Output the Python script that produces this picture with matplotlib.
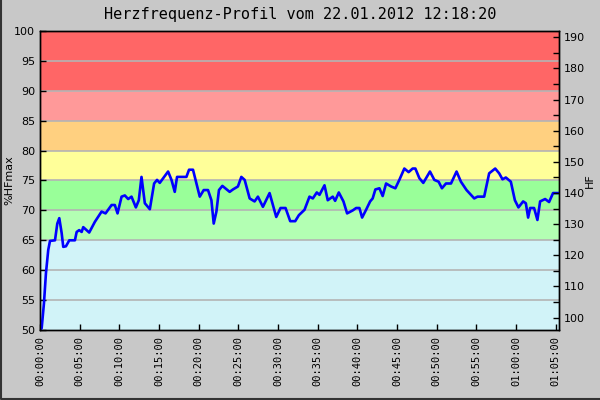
import matplotlib
matplotlib.use('Agg')
import matplotlib.pyplot as plt
from matplotlib.lines import Line2D
from matplotlib.ticker import MultipleLocator, FuncFormatter

# heart rate profile (minutes, %HFmax)
minutes = [0, 0.21, 0.50, 0.75, 1.04, 1.26, 1.89, 2.18, 2.43, 2.73, 2.93, 3.27, 3.69, 4.40,
           4.62, 4.94, 5.25, 5.45, 6.20, 6.92, 7.76, 8.26, 9.02, 9.43, 9.77, 10.28, 10.69,
           11.11, 11.53, 12.08, 12.45, 12.79, 12.92, 13.21, 13.84, 14.38, 14.75, 15.09,
           16.14, 16.57, 16.98, 17.27, 17.82, 18.45, 18.78, 19.28, 19.71, 20.13, 20.63,
           21.17, 21.60, 21.89, 22.23, 22.55, 22.98, 23.90, 24.31, 24.94, 25.37, 25.79,
           26.42, 27.04, 27.46, 28.09, 28.93, 29.77, 30.31, 30.94, 31.53, 32.16, 32.62,
           33.33, 33.96, 34.38, 34.88, 35.22, 35.85, 36.26, 36.89, 37.19, 37.65, 38.24,
           38.70, 39.41, 39.84, 40.25, 40.59, 41.09, 41.60, 41.92, 42.26, 42.77, 43.18,
           43.61, 44.24, 44.78, 45.28, 45.91, 46.45, 46.96, 47.30, 47.80, 48.30, 49.14,
           49.69, 50.23, 50.65, 51.16, 51.79, 52.49, 53.04, 53.75, 54.72, 55.13, 55.97,
           56.60, 57.36, 57.86, 58.28, 58.70, 59.33, 59.84, 60.29, 60.88, 61.22, 61.51,
           61.76, 62.26, 62.68, 63.02, 63.65, 64.15, 64.65, 65.40]
pct_hfmax = [50.0, 50.3, 54.5, 59.5, 63.4, 64.9, 65.0, 67.8, 68.7, 66.2, 63.9, 64.0, 65.0, 65.0,
             66.4, 66.7, 66.4, 67.2, 66.3, 68.1, 69.8, 69.5, 70.9, 70.9, 69.5, 72.3, 72.5,
             71.9, 72.3, 70.5, 71.7, 75.6, 74.2, 71.2, 70.2, 74.5, 75.1, 74.6,
             76.5, 75.1, 73.1, 75.6, 75.6, 75.6, 76.8, 76.8, 74.5, 72.3, 73.4,
             73.4, 71.7, 67.8, 69.8, 73.4, 74.1, 73.1, 73.5, 74.0, 75.6, 75.1,
             72.0, 71.5, 72.3, 70.6, 72.9, 68.9, 70.4, 70.4, 68.2, 68.2, 69.2,
             70.1, 72.3, 72.0, 73.0, 72.6, 74.2, 71.7, 72.3, 71.6, 73.0, 71.5,
             69.5, 70.0, 70.4, 70.4, 68.8, 70.1, 71.5, 72.0, 73.5, 73.7, 72.4,
             74.5, 74.0, 73.7, 75.1, 77.0, 76.4, 77.0, 77.0, 75.4, 74.6, 76.5,
             75.1, 74.8, 73.7, 74.5, 74.5, 76.5, 74.8, 73.4, 72.0, 72.3, 72.3,
             76.2, 77.0, 76.2, 75.2, 75.5, 74.8, 71.7, 70.5, 71.5, 71.2, 68.8,
             70.4, 70.4, 68.4, 71.5, 71.9, 71.4, 72.9, 72.9]

hf_max = 192  # 100 % on the left axis = 192 bpm on the right one

# training zones (lower %, upper %, colour)
zone_lo = [50, 65, 70, 75, 80, 85, 90]
zone_hi = [65, 70, 75, 80, 85, 90, 100]
zone_col = ['#d1f3f8', '#b3ffb3', '#99ff99', '#ffff99', '#ffd080', '#ff9999', '#ff6666']

x_max = 65.4
title = 'Herzfrequenz-Profil vom 22.01.2012 12:18:20'

fig = plt.figure(figsize=(6, 4), dpi=100, facecolor='#c8c8c8')
ax = fig.add_axes([40/600, 70/400, 519/600, 299/400])

# colour bands behind the curve
for lo, hi, c in zip(zone_lo, zone_hi, zone_col):
    ax.axhspan(lo, hi, color=c, lw=0, zorder=0)
for g in range(55, 100, 5):
    ax.axhline(g, color='#b4b4b4', lw=1.2, zorder=1)

ax.plot(minutes, pct_hfmax, color='#0000ff', lw=1.9, zorder=3)

ax.set_xlim(0, x_max)
ax.set_ylim(50, 100)
ax.yaxis.set_major_locator(MultipleLocator(5))
ax.xaxis.set_major_locator(MultipleLocator(5))
ax.xaxis.set_major_formatter(FuncFormatter(
    lambda v, p: '%02d:%02d:00' % (int(round(v)) // 60, int(round(v)) % 60)))
ax.tick_params(axis='both', direction='in', length=4, width=1, colors='black',
               labelsize=8)
ax.tick_params(axis='x', labelrotation=90, pad=4)
for lab in ax.get_xticklabels():
    lab.set_family('DejaVu Sans Mono')
    lab.set_fontsize(7.5)
ax.set_ylabel('%HFmax', fontsize=8, va='center')
ax.yaxis.set_label_coords(-31/519, 0.5)

ax2 = ax.twinx()
ax2.set_ylim(50 * hf_max / 100, hf_max)
ax2.yaxis.set_major_locator(MultipleLocator(10))
ax2.yaxis.set_minor_locator(MultipleLocator(5))
ax2.tick_params(axis='y', which='both', direction='in', length=4, width=1, labelsize=8)
ax2.set_ylabel('HF', fontsize=8, va='center')
ax2.yaxis.set_label_coords(1 + 31/519, 0.5)

for a in (ax, ax2):
    for s in a.spines.values():
        s.set_color('black')
        s.set_linewidth(1)

fig.text(0.5, 1 - 14/400, title, ha='center', va='center', family='DejaVu Sans Mono',
         fontsize=11)
# dark edge on the left and bottom of the picture
fig.lines.append(Line2D([0.001, 0.001, 1], [1, 0.002, 0.002], transform=fig.transFigure,
                        color='#333333', lw=1.5))

fig.savefig('out.png', dpi=100, facecolor=fig.get_facecolor())
